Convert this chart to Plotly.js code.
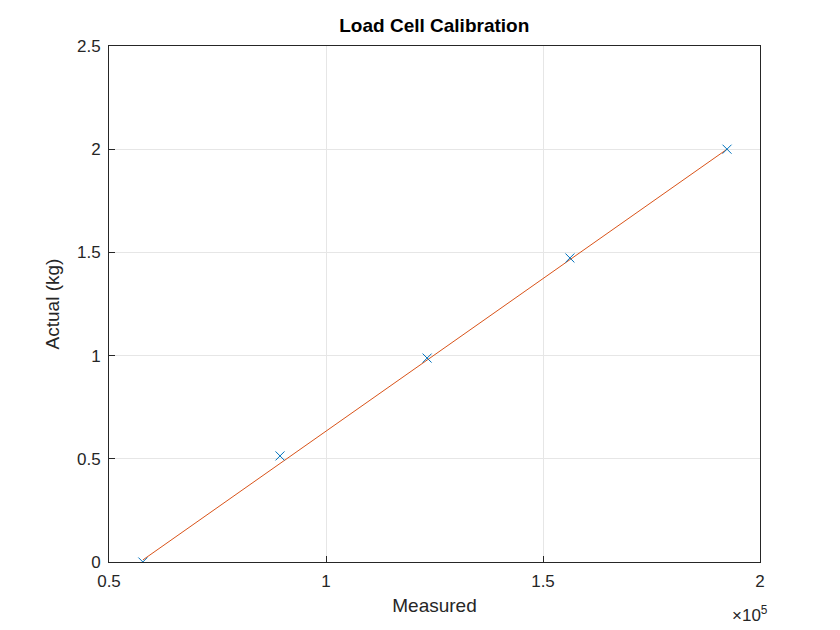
<!DOCTYPE html>
<html>
<head>
<script src="https://cdn.plot.ly/plotly-3.0.1.min.js"></script>
<style>body{margin:0;background:#fff}</style>
</head>
<body>
<div id="plot" style="width:840px;height:630px"></div>
<script>
// calibration points
const measured = [57800, 89400, 123300, 156200, 192400];
const actual = [0, 0.514, 0.988, 1.473, 2.0];
// linear fit line end points
const fitX = [57800, 192400];
const fitY = [0.01, 2.0];
const xTicks = [50000, 100000, 150000, 200000];
const xTickText = ['0.5', '1', '1.5', '2'];
const yTicks = [0, 0.5, 1, 1.5, 2, 2.5];
const yTickText = ['0', '0.5', '1', '1.5', '2', '2.5'];

const points = {
    x: measured, y: actual, mode: 'markers', type: 'scatter',
    marker: {symbol: 'x-thin-open', size: 9, color: '#0072BD', line: {width: 1, color: '#0072BD'}}
};
const fit = {
    x: fitX, y: fitY, mode: 'lines', type: 'scatter',
    line: {color: '#D95319', width: 1}
};

const axisStyle = {
    showline: true, mirror: true, linecolor: '#262626', linewidth: 1,
    ticks: 'inside', ticklen: 6, tickcolor: '#262626',
    showgrid: true, gridcolor: '#e6e6e6', zeroline: false,
    tickfont: {size: 17, color: '#262626'}
};

const layout = {
    width: 840, height: 630,
    margin: {l: 109, r: 80, t: 46, b: 68},
    showlegend: false,
    font: {family: 'Liberation Sans, Arial, sans-serif', color: '#262626'},
    title: {text: '<b>Load Cell Calibration</b>', font: {size: 19, color: '#000'}, x: 0.517, xanchor: 'center', y: 0.97},
    xaxis: Object.assign({}, axisStyle, {
        range: [50000, 200000], tickvals: xTicks, ticktext: xTickText,
        ticklabelstandoff: 4,
        title: {text: 'Measured', font: {size: 19}, standoff: 8}
    }),
    yaxis: Object.assign({}, axisStyle, {
        range: [0, 2.5], tickvals: yTicks, ticktext: yTickText,
        ticklabelstandoff: 4,
        title: {text: 'Actual (kg)', font: {size: 19}, standoff: 12}
    }),
    annotations: [{
        text: '\u00d710<sup>5</sup>', xref: 'paper', yref: 'paper', x: 0.985, y: -0.075,
        xanchor: 'center', yanchor: 'top', showarrow: false, font: {size: 17, color: '#262626'}
    }]
};

Plotly.newPlot('plot', [fit, points], layout, {displayModeBar: false});
</script>
</body>
</html>
